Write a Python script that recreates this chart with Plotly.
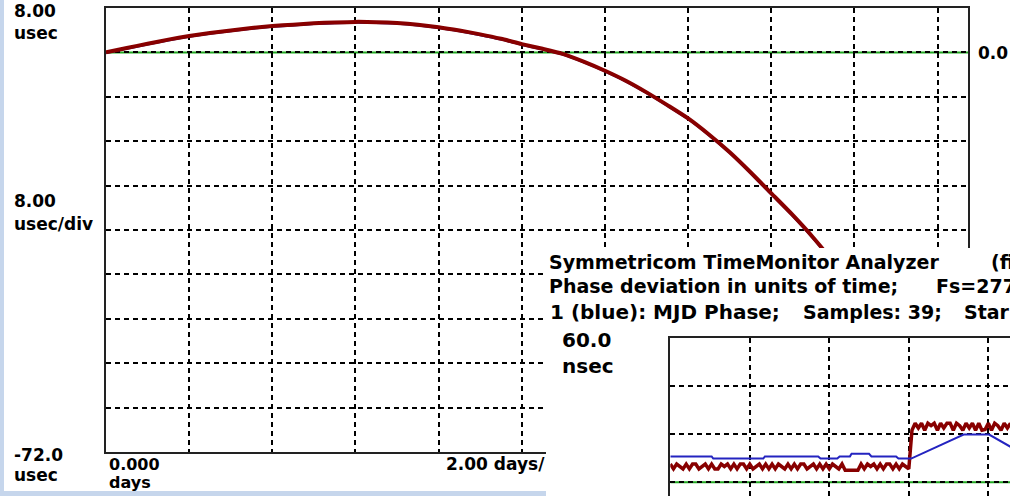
import plotly.graph_objects as go

W, H = 1010, 496

# ---------------- data ----------------
# Main window: phase (usec) vs elapsed time (days)
main_days = [0, 0.5, 1, 1.5, 2, 2.5, 3, 3.5, 4, 4.5, 5, 5.5, 6, 6.5, 7, 7.5, 8, 8.5,
             9, 9.5, 10, 10.5, 11, 11.5, 12, 12.5, 13, 13.5, 14, 14.5, 15, 15.5,
             16, 16.5, 17, 17.5, 18, 19, 20]
main_red_usec = [0.0, 0.8, 1.55, 2.3, 2.95, 3.5, 3.95, 4.4, 4.75, 5.0, 5.25, 5.4,
                 5.5, 5.45, 5.3, 5.0, 4.55, 3.95, 3.25, 2.45, 1.5, 0.65, -0.3, -1.7,
                 -3.3, -5.1, -7.2, -9.5, -11.9, -14.8, -18.0, -21.6, -25.4, -29.2,
                 -33.3, -37.8, -42.5, -53.0, -64.5]
main_blue_usec = [-0.1, 0.65, 1.4, 2.15, 2.8, 3.35, 3.8, 4.25, 4.6, 4.85, 5.1, 5.25,
                  5.35, 5.3, 5.15, 4.85, 4.4, 3.8, 3.1, 2.3, 1.35, 0.5, -0.45, -1.85,
                  -3.45, -5.25, -7.35, -9.65, -12.05, -14.95, -18.15, -21.8, -25.6,
                  -29.4, -33.5, -38.0, -42.7, -53.2, -64.7]

MAIN_X_RANGE = [0, 20.73]      # 2.00 days/div
MAIN_Y_RANGE = [-72.0, 8.0]    # 8.00 usec/div
MAIN_X_DTICK = 2
MAIN_Y_DTICK = 8

# Overlapping window (inset): phase (nsec) vs divisions
inset_blue_t = [0.0, 0.52, 0.54, 1.17, 1.19, 1.86, 1.89, 2.10, 2.13, 2.26, 2.28,
                2.50, 2.53, 2.84, 2.87, 3.03, 3.69, 4.01, 4.29]
inset_blue_ns = [10.8, 10.8, 9.9, 9.9, 10.8, 10.8, 9.9, 9.9, 10.8, 10.8, 11.9,
                 11.9, 10.8, 10.8, 9.9, 9.9, 19.9, 19.9, 14.6]

inset_red_ns = [
    7.6, 5.6, 7.6, 6.6, 5.6, 7.6, 5.6, 7.6, 7.6, 5.6,
    6.6, 7.6, 5.6, 7.6, 5.6, 5.6, 7.6, 6.6, 7.6, 5.6,
    7.6, 5.6, 7.6, 7.6, 5.6, 7.6, 5.6, 6.6, 7.6, 5.6,
    7.6, 5.6, 7.6, 5.6, 7.6, 6.6, 5.6, 7.6, 5.6, 7.6,
    5.6, 7.6, 7.6, 5.6, 6.6, 7.6, 5.6, 7.6, 5.6, 7.6,
    5.6, 7.6, 6.6, 5.6, 7.6, 5.0, 5.0, 5.0, 5.0, 5.0,
    7.6, 5.6, 7.6, 6.6, 7.6, 5.6, 7.6, 5.6, 7.6, 7.6,
    5.6, 7.6, 5.6, 7.6, 6.6, 5.6,
    21.7, 24.6, 22.6, 24.6, 21.7, 24.6, 23.6, 24.6, 21.7, 24.6,
    22.6, 24.6, 24.6, 21.7, 24.6, 23.6, 21.7, 24.6, 22.6, 24.6,
    21.7, 24.6, 21.7, 22.0, 24.6, 21.7, 24.6, 23.6, 21.7, 24.6,
    22.6, 24.6,
]
INSET_RED_STEP = 0.04
inset_red_t = [round(i * INSET_RED_STEP, 4) for i in range(len(inset_red_ns))]

INSET_X_RANGE = [0, 4.273]
INSET_Y_RANGE = [-5.7, 60.0]   # 20 nsec/div
INSET_X_DTICK = 1
INSET_Y_DTICK = 20

# ---------------- styles ----------------
RED = "#880000"
BLUE_MAIN = "#14149a"
BLUE_INSET = "#2424c0"
GREEN = "#22a822"
FRAME = "#222222"
STRIP = "#c6d6ec"
FONT = "DejaVu Sans"


def fx(p):
    return p / W


def fy(p):
    return 1 - p / H


fig = go.Figure()

# main window traces
fig.add_trace(go.Scatter(x=main_days, y=main_blue_usec, mode="lines",
                         line=dict(color=BLUE_MAIN, width=2, shape="spline", smoothing=0.6),
                         xaxis="x", yaxis="y", showlegend=False, hoverinfo="skip"))
fig.add_trace(go.Scatter(x=main_days, y=main_red_usec, mode="lines",
                         line=dict(color=RED, width=4, shape="spline", smoothing=0.6),
                         xaxis="x", yaxis="y", showlegend=False, hoverinfo="skip"))

# cover subplot (the overlapping window's white area)
fig.add_trace(go.Scatter(x=[], y=[], xaxis="x2", yaxis="y2", showlegend=False,
                         hoverinfo="skip"))

# inset traces
fig.add_trace(go.Scatter(x=inset_red_t, y=inset_red_ns, mode="lines",
                         line=dict(color=RED, width=3.5), xaxis="x3", yaxis="y3",
                         showlegend=False, hoverinfo="skip"))
fig.add_trace(go.Scatter(x=inset_blue_t, y=inset_blue_ns, mode="lines",
                         line=dict(color=BLUE_INSET, width=2), xaxis="x3", yaxis="y3",
                         showlegend=False, hoverinfo="skip"))

grid = dict(showgrid=True, gridcolor="#000000", gridwidth=1.5, griddash="5px,4px",
            zeroline=False, showticklabels=False, ticks="")

fig.update_layout(
    width=W, height=H,
    margin=dict(l=0, r=0, t=0, b=0),
    paper_bgcolor="white", plot_bgcolor="white",
    showlegend=False,
    xaxis=dict(domain=[fx(106), fx(968)], range=MAIN_X_RANGE, dtick=MAIN_X_DTICK,
               tick0=0, showline=True, mirror=True, linecolor=FRAME, linewidth=2,
               anchor="y", **grid),
    yaxis=dict(domain=[fy(452), fy(8)], range=MAIN_Y_RANGE, dtick=MAIN_Y_DTICK,
               tick0=0, showline=True, mirror=True, linecolor=FRAME, linewidth=2,
               anchor="x", **grid),
    xaxis2=dict(domain=[fx(546), 1.0], range=[0, 1], visible=False, anchor="y2"),
    yaxis2=dict(domain=[0.0, fy(248)], range=[0, 1], visible=False, anchor="x2"),
    xaxis3=dict(domain=[fx(670.3), 1.0], range=INSET_X_RANGE, dtick=INSET_X_DTICK,
                tick0=0, side="top", showline=True, mirror=False, linecolor=FRAME,
                linewidth=2, anchor="y3", **grid),
    yaxis3=dict(domain=[0.0, fy(338.3)], range=INSET_Y_RANGE, dtick=INSET_Y_DTICK,
                tick0=0, showline=True, mirror=False, linecolor=FRAME, linewidth=2,
                anchor="x3", **grid),
)

shapes = [
    # green zero references under the dashed grid
    dict(type="line", xref="x", yref="y", x0=MAIN_X_RANGE[0], x1=MAIN_X_RANGE[1],
         y0=0, y1=0, line=dict(color=GREEN, width=2), layer="below"),
    dict(type="line", xref="x3", yref="y3", x0=INSET_X_RANGE[0], x1=INSET_X_RANGE[1],
         y0=0, y1=0, line=dict(color=GREEN, width=2), layer="below"),
    # desktop strips
    dict(type="rect", xref="paper", yref="paper", x0=0, x1=fx(4), y0=0, y1=1,
         fillcolor=STRIP, line=dict(width=0), layer="below"),
    dict(type="rect", xref="paper", yref="paper", x0=0, x1=fx(547), y0=0, y1=fy(491),
         fillcolor=STRIP, line=dict(width=0), layer="below"),
]
fig.update_layout(shapes=shapes)


def label(text, x, y, size=17, anchor="left"):
    return dict(text=text, xref="paper", yref="paper", x=fx(x), y=fy(y),
                xanchor=anchor, yanchor="middle", showarrow=False,
                font=dict(family=FONT, size=size, color="#000000", weight="bold"))


annotations = [
    label("8.00", 12, 11),
    label("usec", 12, 33),
    label("8.00", 12, 201),
    label("usec/div", 12, 224),
    label("-72.0", 12, 455),
    label("usec", 12, 475),
    label("0.000", 107, 464, size=16),
    label("days", 107, 482, size=16),
    label("2.00 days/", 444, 464),
    label("0.0", 976, 53),
    # overlapping window texts
    label("Symmetricom TimeMonitor Analyzer", 547, 262, size=19),
    label("(fi", 989, 262, size=19),
    label("Phase deviation in units of time;", 547, 286, size=19),
    label("Fs=277", 934, 286, size=19),
    label("1 (blue): MJD Phase;", 548, 312, size=20),
    label("Samples: 39;", 801, 312, size=19),
    label("Star", 962, 312, size=19),
    label("60.0", 560, 340, size=20),
    label("nsec", 560, 366, size=20),
]
fig.update_layout(annotations=annotations)

fig.write_html("out.html")
